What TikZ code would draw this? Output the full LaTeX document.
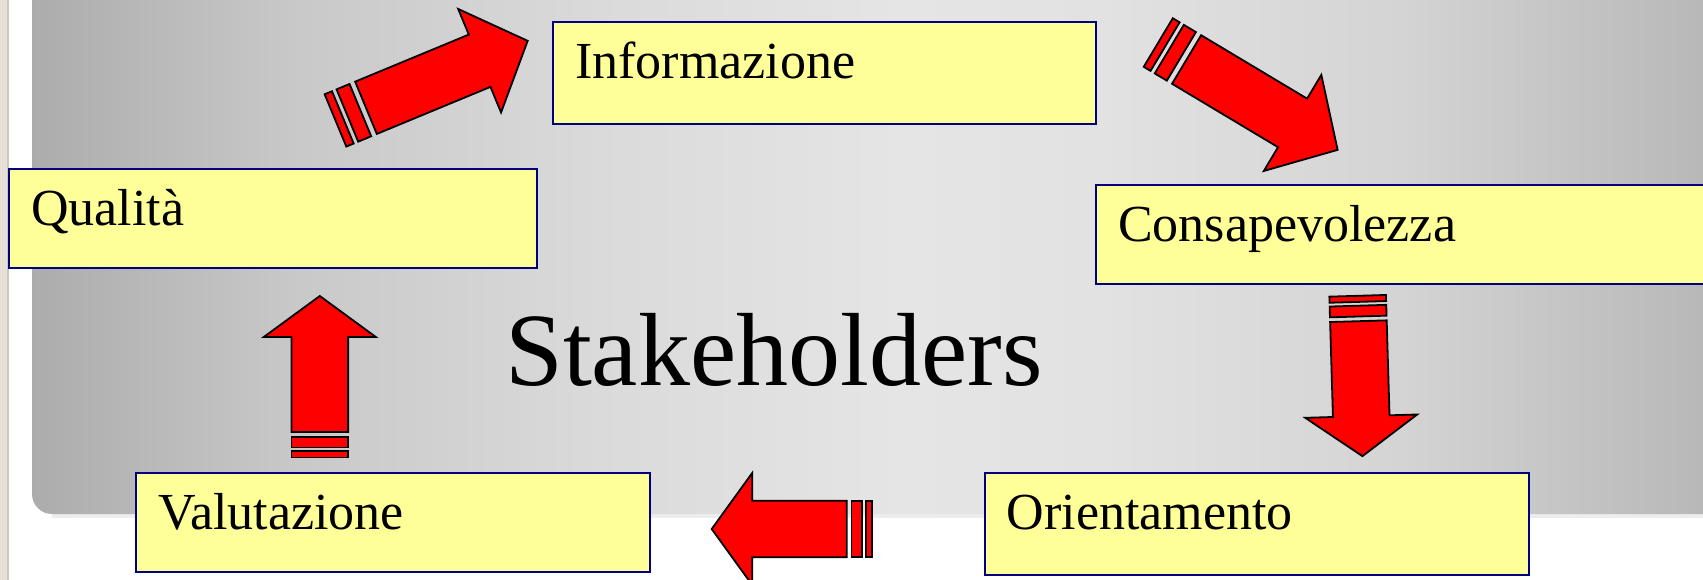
\documentclass[tikz,border=0pt]{standalone}
\usepackage{fontspec}
\setmainfont{Liberation Serif}
\definecolor{boxfill}{HTML}{FFFF99}
\definecolor{boxline}{HTML}{000080}
\definecolor{arrowred}{HTML}{FF0000}
\definecolor{beige}{HTML}{E6E0D6}
\definecolor{beigeline}{HTML}{CEC8BE}
\definecolor{shadowline}{HTML}{EDEDED}
\definecolor{p0}{HTML}{ACACAC}
\definecolor{p1}{HTML}{C9C9C9}
\definecolor{p2}{HTML}{DADADA}
\definecolor{p3}{HTML}{E5E5E5}
\definecolor{p4}{HTML}{E2E2E2}
\definecolor{p5}{HTML}{D4D4D4}
\definecolor{p6}{HTML}{B8B8B8}
\definecolor{p7}{HTML}{B6B6B6}
\pgfdeclarehorizontalshading{panelshade}{100bp}{color(0bp)=(p0); color(25bp)=(p0); color(32.9bp)=(p1); color(41.7bp)=(p2); color(50.6bp)=(p3); color(56.4bp)=(p4); color(65.3bp)=(p5); color(74.2bp)=(p6); color(75bp)=(p7); color(100bp)=(p7)}
\newcommand{\boxfont}{\fontsize{52}{60}\selectfont}
\newcommand{\stakefont}{\fontsize{104}{122}\selectfont}
\tikzset{
  box/.style={draw=boxline, fill=boxfill, line width=2.4pt, anchor=north west,
    inner xsep=22pt, inner ysep=0pt, text height=56pt, align=left, font=\boxfont, text=black},
  arrowshape/.style={fill=arrowred, draw=black, line width=1.8pt, line join=miter},
  pics/sarrow/.style n args={3}{code={
    \path[arrowshape] (0,-28.3) -- ({#1-#2},-28.3) -- ({#1-#2},-56) -- (#1,0)
      -- ({#1-#2},56) -- ({#1-#2},28.3) -- (0,28.3) -- cycle;
    \path[arrowshape] ({-4.7*#3},-28.3) rectangle ({-15.5*#3},28.3);
    \path[arrowshape] ({-19.3*#3},-28.3) rectangle ({-25.4*#3},28.3);
  }}
}
\begin{document}
\begin{tikzpicture}[x=1pt,y=-1pt]
\useasboundingbox (0,0) rectangle (1703,580);
\clip (0,0) rectangle (1703,580);
\fill[white] (0,0) rectangle (1703,580);
\fill[beige] (0,0) rectangle (7,580);
\fill[beigeline] (7,0) rectangle (8.5,580);
% panel
\fill[shadowline] (52,514) rectangle (1730,518);
\shade[shading=panelshade, rounded corners=20pt] (32,-40) rectangle (1730,514);
% boxes
\node[box, text width=484pt, text depth=43pt] (qual) at (8,168) {Qualità};
\node[box, text width=499pt, text depth=46pt] (info) at (552,21) {Informazione};
\node[box, text width=596pt, text depth=42.5pt] (cons) at (1095,184) {Consapevolezza};
\node[box, text width=470pt, text depth=43pt] (valu) at (135,472) {Valutazione};
\node[box, text width=500pt, text depth=46pt] (orie) at (983.5,472) {Orientamento};
% centre text
\node[font=\stakefont, anchor=base west, inner sep=0pt] (stake) at (505,385) {Stakeholders};
% arrows
\pic[rotate=22.5] at (366,107.8) {sarrow={175}{52}{1.3}};
\pic[rotate=-30.9] at (1186.6,59.5) {sarrow={176}{52.5}{1.3}};
\pic[rotate=-88.3] at (1358.4,321.2) {sarrow={135}{40}{1}};
\pic[rotate=180] at (846.7,529) {sarrow={135}{40.5}{1}};
\pic[rotate=90] at (319.8,432) {sarrow={136}{41}{1}};
\end{tikzpicture}
\end{document}
